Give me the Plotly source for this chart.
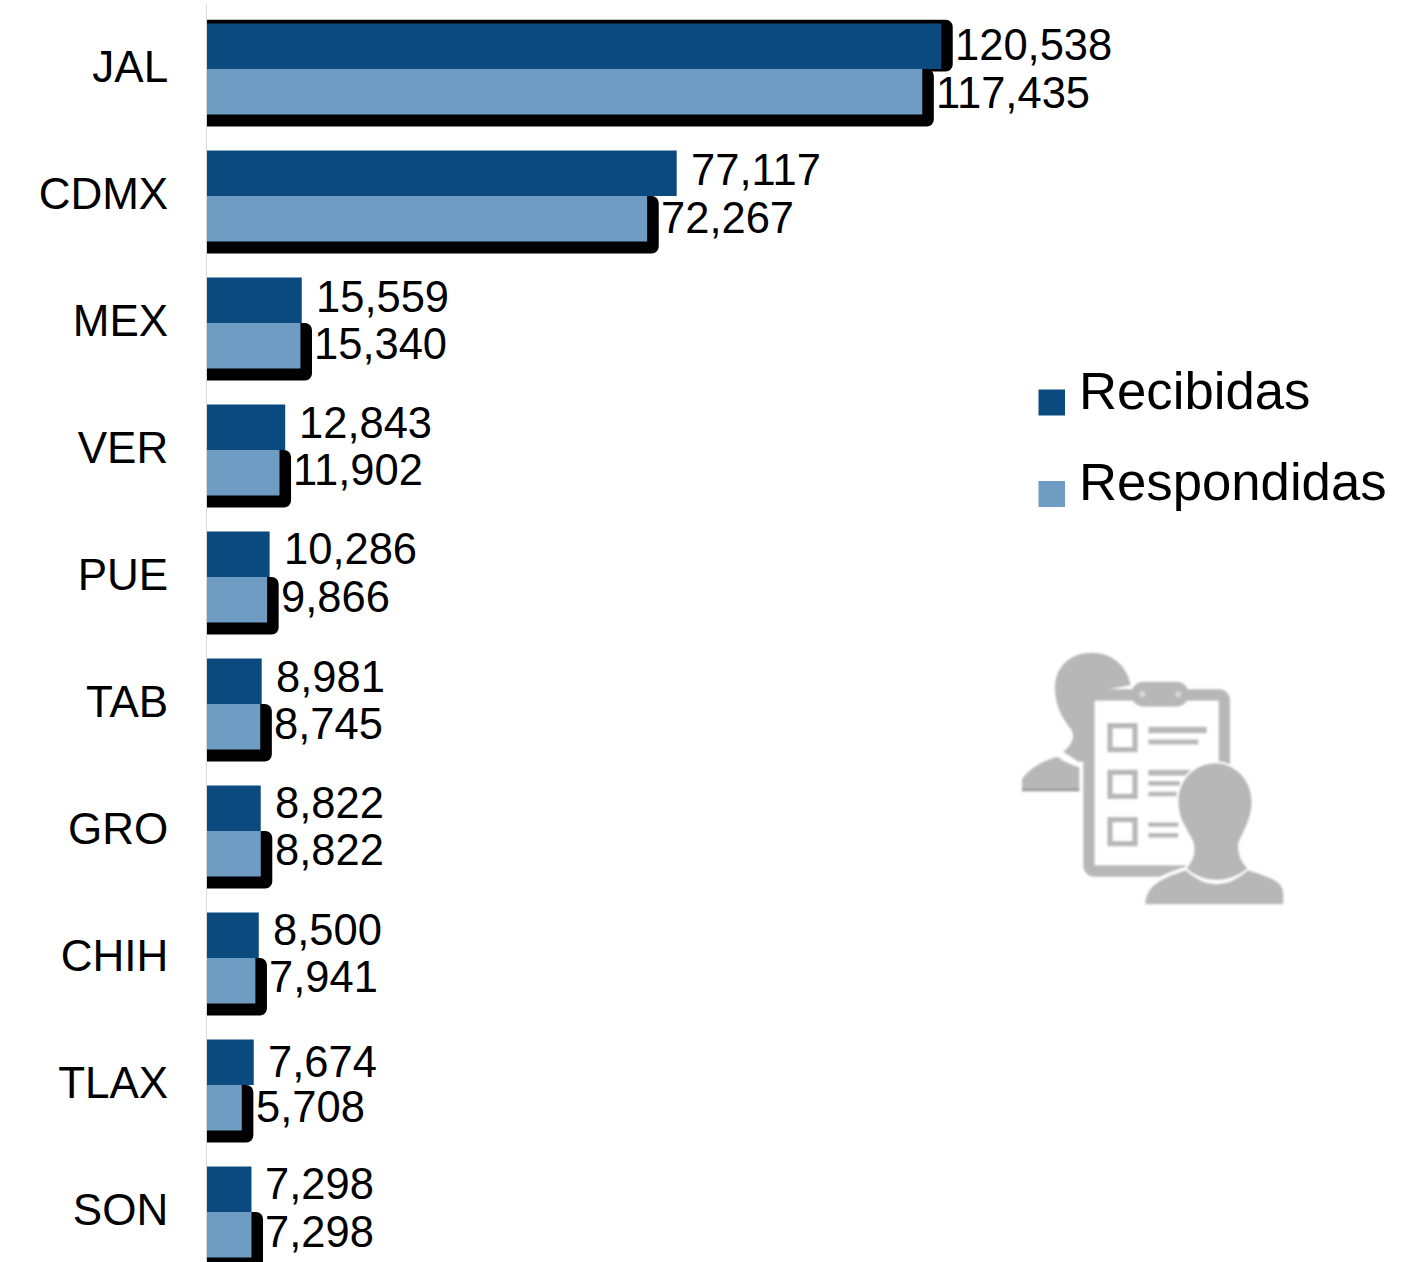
import base64
import plotly.graph_objects as go

categories = ["JAL", "CDMX", "MEX", "VER", "PUE", "TAB", "GRO", "CHIH", "TLAX", "SON"]
recibidas = [120538, 77117, 15559, 12843, 10286, 8981, 8822, 8500, 7674, 7298]
respondidas = [117435, 72267, 15340, 11902, 9866, 8745, 8822, 7941, 5708, 7298]
series_names = ["Recibidas", "Respondidas"]

# per-row vertical nudges of the value labels, in pixels (style, not data)
nudge_recibidas = [0, 2, 2, 3, 4, 3, 4, 4, -1, 4]
nudge_respondidas = [0, 2, 2, 3, 3, 3, 4, 4, 1, 3]

DARK = "#0A4A7F"
LIGHT = "#6F9CC3"
FONT = "Liberation Sans, Arial, sans-serif"
W, H = 1416, 1262
L, T = 207, 5
XMAX = 198500
SHADOW = 1900
BAR = 0.358

ICON_COLOR = "#B7B7B7"
svg = f'''<svg xmlns="http://www.w3.org/2000/svg" width="900" height="870" viewBox="0 0 900 870">
<defs><filter id="b"><feGaussianBlur stdDeviation="3"/></filter></defs>
<g filter="url(#b)" fill="{ICON_COLOR}">
<path d="M165,175 C165,105 215,68 275,68 C335,68 380,105 392,165 L270,190 L270,395 L235,395 L190,365 C215,345 225,325 215,300 C185,265 165,225 165,175 Z"/>
<path d="M66,482 L66,448 C90,412 130,392 172,380 C190,395 215,405 238,412 L238,482 Z"/>
<rect x="66" y="476" width="172" height="8" fill="#9A9A9A"/>
<rect x="267" y="195" width="406" height="528" rx="16" fill="#FFFFFF" stroke="{ICON_COLOR}" stroke-width="34"/>
<rect x="395" y="155" width="170" height="75" rx="35"/>
<circle cx="427" cy="193" r="9" fill="#D8D8D8"/><circle cx="535" cy="193" r="9" fill="#D8D8D8"/>
<g fill="none" stroke="{ICON_COLOR}" stroke-width="16">
<rect x="330" y="287" width="75" height="72"/><rect x="330" y="427" width="75" height="72"/><rect x="330" y="569" width="75" height="72"/>
</g>
<g stroke="{ICON_COLOR}" fill="none">
<path d="M445,300 H620" stroke-width="20"/><path d="M445,336 H595" stroke-width="15"/>
<path d="M445,428 H570" stroke-width="18"/><path d="M445,460 H540" stroke-width="14"/><path d="M445,492 H530" stroke-width="14"/>
<path d="M445,584 H535" stroke-width="14"/><path d="M445,616 H535" stroke-width="14"/>
</g>
<path d="M430,828 C430,780 455,745 560,715 C590,745 620,758 650,758 C680,758 715,740 742,715 C810,735 855,750 855,790 L855,828 Z" stroke="#FFFFFF" stroke-width="10"/>
<path d="M535,515 C535,445 590,400 645,400 C705,400 755,450 755,515 C755,570 725,610 715,640 C712,670 722,695 742,715 C715,740 680,750 650,750 C620,750 585,740 560,715 C580,690 588,665 580,635 C565,600 535,570 535,515 Z" stroke="#FFFFFF" stroke-width="12" paint-order="stroke"/>
</g></svg>'''
icon_src = "data:image/svg+xml;base64," + base64.b64encode(svg.encode()).decode()

NOLINE = dict(width=0)
fig = go.Figure()
# drop shadows sit behind the bars
fig.add_bar(y=categories, x=[recibidas[0] + SHADOW] + [None] * 9, orientation="h",
            offset=-BAR - 0.03, width=BAR + 0.05, marker=dict(color="#000000", cornerradius=7, line=NOLINE),
            hoverinfo="skip", showlegend=False)
fig.add_bar(y=categories, x=[v + SHADOW for v in respondidas], orientation="h",
            offset=0, width=BAR + 0.095, marker=dict(color="#000000", cornerradius=7, line=NOLINE),
            hoverinfo="skip", showlegend=False)
fig.add_bar(y=categories, x=recibidas, name=series_names[0], orientation="h",
            offset=-BAR, width=BAR, marker=dict(color=DARK, line=NOLINE), showlegend=False)
fig.add_bar(y=categories, x=respondidas, name=series_names[1], orientation="h",
            offset=0, width=BAR, marker=dict(color=LIGHT, line=NOLINE), showlegend=False)

annotations = []
for i, (a, b) in enumerate(zip(recibidas, respondidas)):
    for v, dy, ny in ((a, -0.19, nudge_recibidas[i]), (b, 0.185, nudge_respondidas[i])):
        annotations.append(dict(x=v, y=i + dy, xref="x", yref="y", text=f"{v:,}", showarrow=False,
                                xanchor="left", yanchor="middle", xshift=12, yshift=ny,
                                font=dict(family=FONT, size=43.5, color="#000000")))


def px(x):
    return (x - L) / (W - L)


def py(y):
    return 1 - (y - T) / (H - T)


shapes = []
for name, color, ty, sy in zip(series_names, (DARK, LIGHT), (391, 481), (402.5, 494)):
    annotations.append(dict(x=px(1076.5), y=py(ty), xref="paper", yref="paper", text=name, showarrow=False,
                            xanchor="left", yanchor="middle",
                            font=dict(family=FONT, size=52.7, color="#000000")))
    shapes.append(dict(type="rect", xref="paper", yref="paper", x0=px(1038.5), x1=px(1065),
                       y0=py(sy - 13), y1=py(sy + 13), fillcolor=color, line_width=0, layer="above"))

fig.update_layout(
    width=W, height=H, margin=dict(l=L, r=0, t=T, b=0, pad=0),
    barmode="overlay", paper_bgcolor="#FFFFFF", plot_bgcolor="#FFFFFF",
    showlegend=False, annotations=annotations, shapes=shapes,
    images=[dict(source=icon_src, xref="paper", yref="paper", x=px(1000), y=py(630),
                 sizex=300 / (W - L), sizey=290 / (H - T), xanchor="left", yanchor="top",
                 sizing="stretch", layer="above")],
    xaxis=dict(range=[0, XMAX], visible=False),
    yaxis=dict(type="category", categoryorder="array", categoryarray=categories,
               range=[9.394, -0.504], showgrid=False, showline=True, linecolor="#D9D9D9", linewidth=1,
               ticks="", ticklabelstandoff=29, ticklabelshift=2,
               tickfont=dict(family=FONT, size=44, color="#000000")),
)
fig.write_html("out.html", config={"displayModeBar": False},
               post_script="document.body.style.margin='0';document.documentElement.style.overflow='hidden';")
